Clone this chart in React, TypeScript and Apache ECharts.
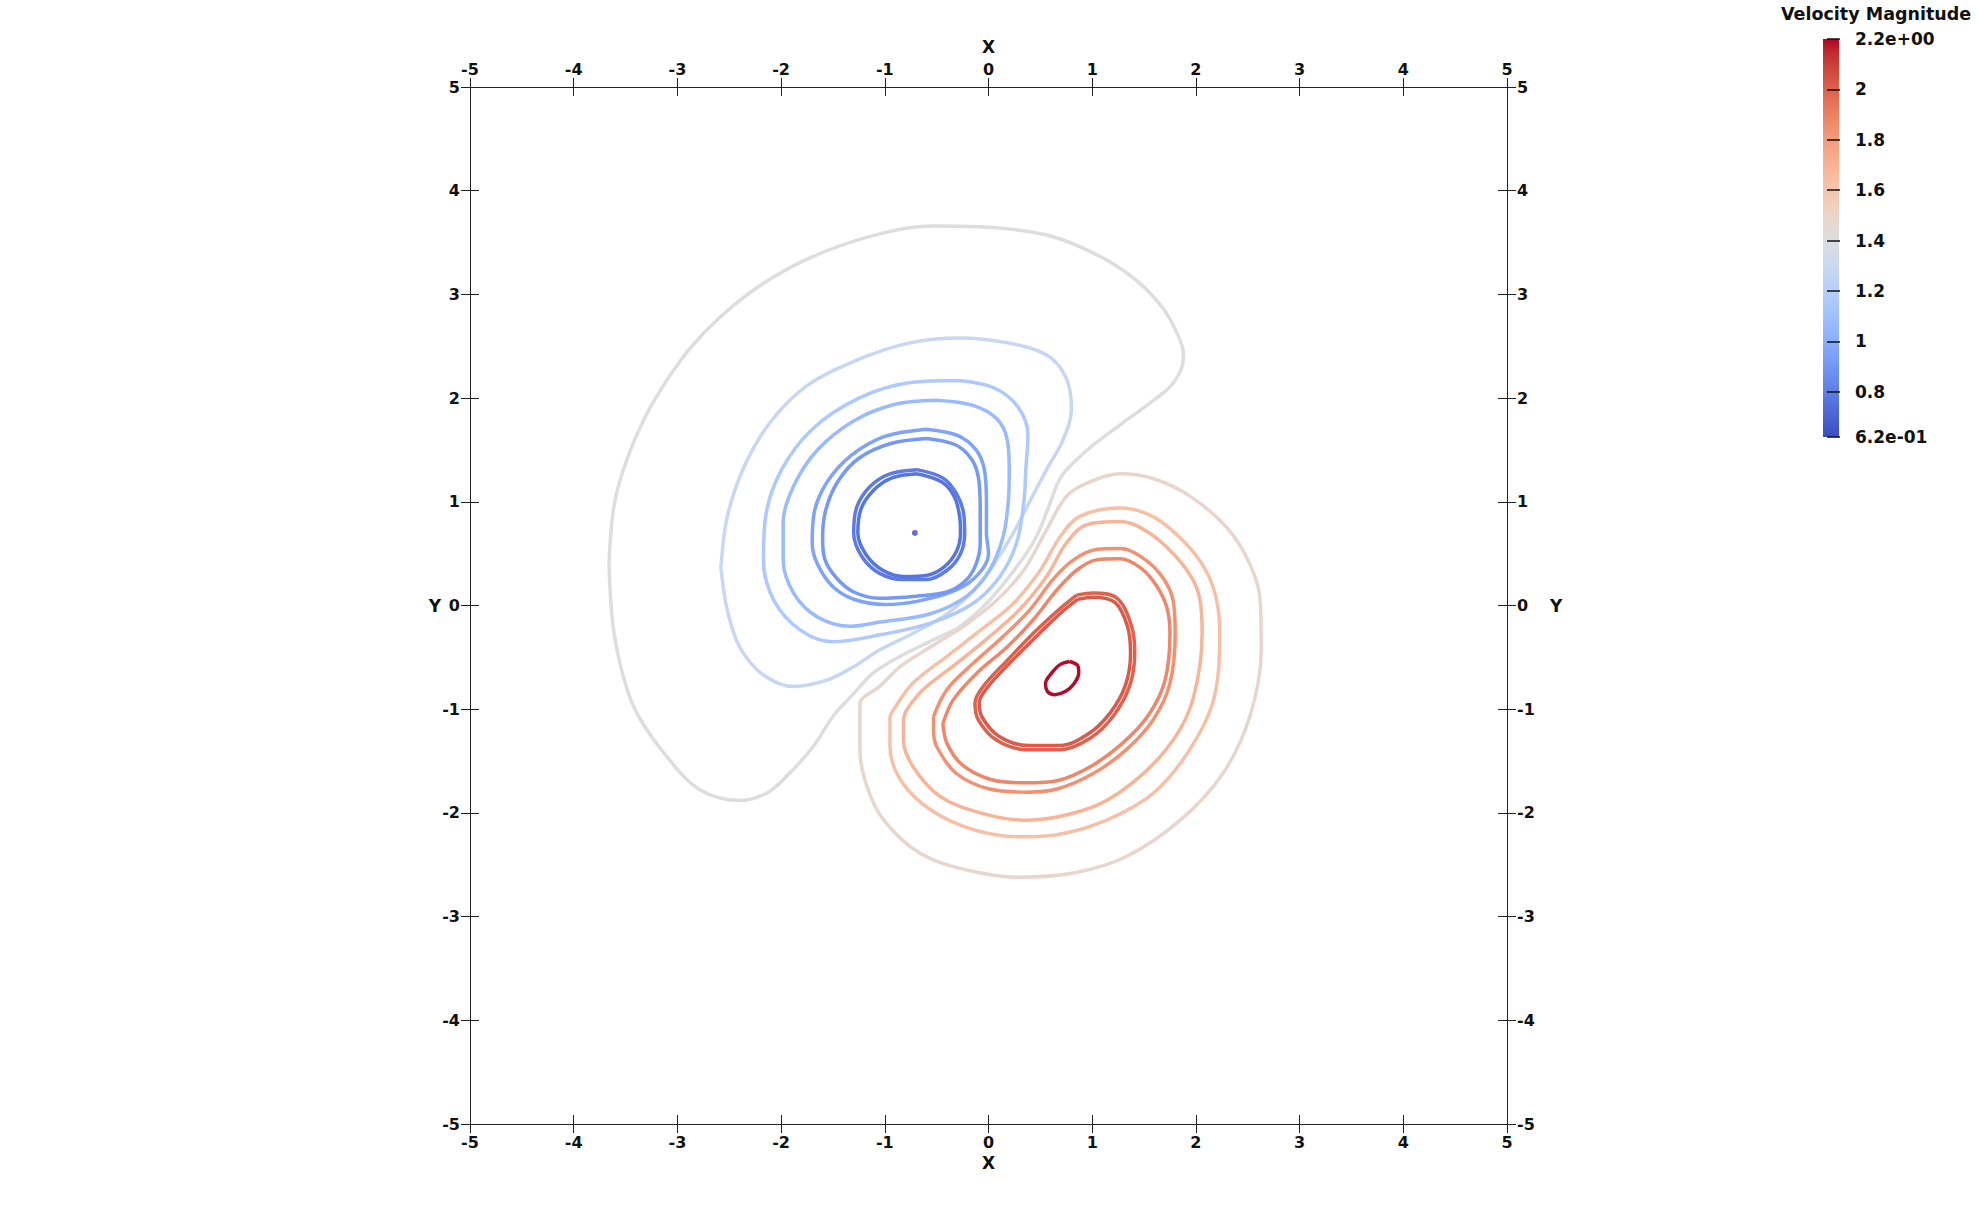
import React, { useEffect, useRef } from "react";
import * as echarts from "echarts";

// ---- axis ranges / ticks ----
const AXIS_MIN = -5;
const AXIS_MAX = 5;
const AXIS_STEP = 1;
const LEGEND_MIN = 0.62;
const LEGEND_MAX = 2.2;
const LEGEND_TICKS = [0.62, 0.8, 1, 1.2, 1.4, 1.6, 1.8, 2, 2.2];
const LEGEND_TITLE = "Velocity Magnitude";

// ---- contour lines (x, y) ----
const GRAY_141 = [
  [-3.66, 0.4], [-3.61, 0.97], [-3.49, 1.4], [-3.31, 1.82], [-3.09, 2.19], [-2.87, 2.49], [-2.6, 2.77],
  [-2.24, 3.06], [-1.75, 3.34], [-1.14, 3.56], [-0.53, 3.66], [-0.04, 3.65], [0.57, 3.57], [1.05, 3.38],
  [1.42, 3.14], [1.68, 2.87], [1.83, 2.6], [1.88, 2.42], [1.85, 2.26], [1.74, 2.1], [1.54, 1.94],
  [1.24, 1.72], [0.93, 1.48], [0.7, 1.24], [0.58, 0.95], [0.46, 0.66], [0.3, 0.41], [0.01, 0.05],
  [-0.27, -0.2], [-0.53, -0.33], [-0.85, -0.49], [-1.11, -0.65], [-1.3, -0.85], [-1.5, -1.07],
  [-1.69, -1.36], [-1.95, -1.65], [-2.14, -1.81], [-2.4, -1.88], [-2.78, -1.78], [-3.1, -1.46],
  [-3.39, -1.04], [-3.52, -0.69], [-3.62, -0.2], [-3.66, 0.4],
];
const BLUE_130 = [
  [-2.58, 0.36], [-2.52, 0.85], [-2.36, 1.33], [-2.11, 1.76], [-1.75, 2.12], [-1.26, 2.37], [-0.77, 2.53],
  [-0.29, 2.58], [0.2, 2.53], [0.57, 2.41], [0.75, 2.19], [0.8, 1.9], [0.72, 1.6], [0.56, 1.31],
  [0.37, 0.95], [0.24, 0.7], [0.08, 0.44], [-0.11, 0.18], [-0.4, -0.08], [-0.73, -0.27], [-1.05, -0.43],
  [-1.3, -0.59], [-1.56, -0.72], [-1.88, -0.78], [-2.17, -0.67], [-2.4, -0.4], [-2.52, -0.04], [-2.58, 0.36],
];
const BLUE_116 = [
  [-0.29, 2.17], [0.05, 2.1], [0.28, 1.92], [0.38, 1.65], [0.36, 1.31], [0.34, 0.99], [0.27, 0.6],
  [0.11, 0.28], [-0.15, 0.02], [-0.56, -0.17], [-1.03, -0.28], [-1.5, -0.35], [-1.81, -0.24],
  [-2.07, 0.05], [-2.17, 0.44], [-2.15, 0.85], [-2.0, 1.3], [-1.7, 1.7], [-1.25, 2.0], [-0.75, 2.15],
  [-0.29, 2.17],
];
const BLUE_108 = [
  [-0.5, 1.98], [-0.15, 1.93], [0.08, 1.8], [0.18, 1.6], [0.2, 1.31], [0.19, 0.99], [0.14, 0.66],
  [0.01, 0.34], [-0.21, 0.09], [-0.56, -0.08], [-1.05, -0.16], [-1.33, -0.2], [-1.65, -0.11],
  [-1.88, 0.12], [-1.98, 0.44], [-1.98, 0.8], [-1.88, 1.15], [-1.65, 1.5], [-1.3, 1.78], [-0.9, 1.94],
  [-0.5, 1.98],
];
const BLUE_095 = [
  [-0.6, 1.7], [-0.3, 1.64], [-0.12, 1.5], [-0.04, 1.31], [-0.02, 1.0], [-0.02, 0.7], [0.0, 0.5],
  [-0.1, 0.3], [-0.31, 0.15], [-0.69, 0.04], [-1.0, 0.01], [-1.3, 0.06], [-1.5, 0.18], [-1.65, 0.4],
  [-1.7, 0.6], [-1.68, 0.9], [-1.55, 1.2], [-1.32, 1.45], [-1.0, 1.63], [-0.6, 1.7],
];
const BLUE_091 = [
  [-0.6, 1.61], [-0.32, 1.55], [-0.17, 1.42], [-0.1, 1.25], [-0.08, 0.95], [-0.08, 0.6], [-0.12, 0.4],
  [-0.22, 0.24], [-0.4, 0.13], [-0.7, 0.09], [-1.05, 0.07], [-1.3, 0.13], [-1.47, 0.27], [-1.58, 0.45],
  [-1.6, 0.65], [-1.57, 0.92], [-1.45, 1.2], [-1.25, 1.42], [-0.95, 1.56], [-0.6, 1.61],
];
const BLUE_078 = [
  [-0.69, 1.31], [-0.44, 1.23], [-0.31, 1.08], [-0.24, 0.89], [-0.23, 0.7], [-0.27, 0.5], [-0.4, 0.34],
  [-0.6, 0.25], [-0.82, 0.25], [-1.05, 0.31], [-1.22, 0.47], [-1.3, 0.7], [-1.27, 0.95], [-1.14, 1.15],
  [-0.95, 1.27], [-0.69, 1.31],
];
const BLUE_076 = [
  [-0.69, 1.27], [-0.45, 1.19], [-0.33, 1.05], [-0.28, 0.87], [-0.27, 0.7], [-0.31, 0.52], [-0.43, 0.37],
  [-0.6, 0.29], [-0.82, 0.28], [-1.02, 0.34], [-1.18, 0.49], [-1.26, 0.7], [-1.23, 0.93], [-1.11, 1.11],
  [-0.93, 1.23], [-0.69, 1.27],
];
const BLUE_CORE = [[-0.71, 0.7]];

const BEIGE_148 = [
  [-1.24, -1.23], [-1.24, -0.95], [-1.05, -0.78], [-0.85, -0.59], [-0.56, -0.4], [-0.24, -0.2], [0.08, 0.05],
  [0.34, 0.34], [0.56, 0.73], [0.75, 1.05], [0.95, 1.18], [1.27, 1.27], [1.6, 1.22], [1.95, 1.05],
  [2.3, 0.75], [2.52, 0.4], [2.62, 0.05], [2.63, -0.43], [2.52, -1.07], [2.26, -1.62], [1.85, -2.07],
  [1.33, -2.42], [0.82, -2.58], [0.3, -2.62], [-0.21, -2.55], [-0.66, -2.39], [-1.01, -2.07],
  [-1.17, -1.75], [-1.24, -1.39], [-1.24, -1.23],
];
const PEACH_163 = [
  [-0.95, -1.07], [-0.92, -1.01], [-0.73, -0.75], [-0.4, -0.49], [-0.08, -0.24], [0.24, 0.02], [0.5, 0.34],
  [0.69, 0.66], [0.88, 0.86], [1.27, 0.94], [1.6, 0.85], [1.9, 0.6], [2.1, 0.33], [2.2, 0.05],
  [2.23, -0.27], [2.17, -0.91], [1.94, -1.39], [1.59, -1.81], [1.14, -2.07], [0.66, -2.21], [0.3, -2.23],
  [-0.15, -2.16], [-0.56, -1.97], [-0.85, -1.68], [-0.95, -1.36], [-0.95, -1.07],
];
const PEACH_169 = [
  [-0.82, -1.1], [-0.79, -1.01], [-0.63, -0.81], [-0.31, -0.56], [0.01, -0.3], [0.3, -0.04], [0.56, 0.28],
  [0.75, 0.6], [0.95, 0.78], [1.27, 0.81], [1.55, 0.7], [1.8, 0.48], [1.97, 0.25], [2.04, 0.05],
  [2.06, -0.27], [1.97, -0.91], [1.78, -1.3], [1.46, -1.65], [1.08, -1.91], [0.66, -2.04], [0.34, -2.07],
  [-0.08, -2.0], [-0.47, -1.84], [-0.73, -1.55], [-0.82, -1.3], [-0.82, -1.1],
];
const ORANGE_184 = [
  [-0.53, -1.07], [-0.4, -0.81], [-0.15, -0.56], [0.14, -0.3], [0.4, -0.04], [0.62, 0.25], [0.82, 0.44],
  [1.04, 0.54], [1.27, 0.55], [1.5, 0.45], [1.68, 0.27], [1.78, 0.05], [1.8, -0.27], [1.75, -0.75],
  [1.59, -1.1], [1.33, -1.39], [1.01, -1.62], [0.66, -1.77], [0.37, -1.8], [0.01, -1.77], [-0.31, -1.62],
  [-0.5, -1.36], [-0.53, -1.2], [-0.53, -1.07],
];
const ORANGE_188 = [
  [-0.44, -1.14], [-0.34, -0.91], [-0.11, -0.65], [0.18, -0.4], [0.43, -0.14], [0.66, 0.15], [0.85, 0.34],
  [1.04, 0.44], [1.27, 0.45], [1.47, 0.36], [1.62, 0.19], [1.72, -0.02], [1.75, -0.27], [1.7, -0.73],
  [1.54, -1.06], [1.29, -1.33], [0.99, -1.55], [0.66, -1.69], [0.37, -1.71], [0.03, -1.68], [-0.25, -1.54],
  [-0.4, -1.33], [-0.44, -1.14],
];
const RED_200 = [
  [0.85, 0.1], [1.01, 0.12], [1.24, 0.07], [1.38, -0.2], [1.41, -0.46], [1.36, -0.78], [1.2, -1.07],
  [0.98, -1.28], [0.69, -1.39], [0.37, -1.39], [0.08, -1.3], [-0.1, -1.1], [-0.13, -0.94], [-0.05, -0.78],
  [0.18, -0.53], [0.43, -0.27], [0.69, -0.03], [0.85, 0.1],
];
const RED_202 = [
  [0.86, 0.06], [1.01, 0.08], [1.22, 0.03], [1.34, -0.2], [1.37, -0.46], [1.32, -0.77], [1.17, -1.04],
  [0.96, -1.24], [0.69, -1.35], [0.38, -1.35], [0.1, -1.26], [-0.06, -1.08], [-0.09, -0.94], [-0.01, -0.79],
  [0.21, -0.55], [0.46, -0.3], [0.71, -0.06], [0.86, 0.06],
];
const RED_219 = [
  [0.78, -0.54], [0.86, -0.58], [0.87, -0.65], [0.82, -0.76], [0.74, -0.83], [0.64, -0.86], [0.57, -0.83],
  [0.55, -0.75], [0.61, -0.65], [0.69, -0.57], [0.78, -0.54],
];

const CONTOUR_LINES: [number, number[][]][] = [
  [1.41, GRAY_141], [1.29, BLUE_130], [1.16, BLUE_116], [1.07, BLUE_108], [0.95, BLUE_095],
  [0.91, BLUE_091], [0.79, BLUE_078], [0.77, BLUE_076],
  [1.48, BEIGE_148], [1.63, PEACH_163], [1.69, PEACH_169], [1.84, ORANGE_184], [1.88, ORANGE_188],
  [2.0, RED_200], [2.02, RED_202], [2.19, RED_219],
];
const CORE_VALUE = 0.62;

// ParaView "Cool to Warm" colour map
const COOLWARM = [
  [59, 76, 192], [68, 90, 204], [77, 104, 215], [87, 117, 225], [98, 130, 234], [108, 142, 241],
  [119, 154, 247], [130, 165, 251], [141, 176, 254], [152, 185, 255], [163, 194, 255], [174, 201, 253],
  [184, 208, 249], [194, 213, 244], [204, 217, 238], [213, 219, 230], [221, 221, 221], [229, 216, 209],
  [236, 211, 197], [241, 204, 185], [245, 196, 173], [247, 187, 160], [247, 177, 148], [247, 166, 135],
  [244, 154, 123], [241, 141, 111], [236, 127, 99], [229, 112, 88], [222, 96, 77], [213, 80, 66],
  [203, 62, 56], [192, 40, 47], [180, 4, 38],
];

function cmap(t: number): string {
  const tt = Math.max(0, Math.min(1, t));
  const pos = tt * (COOLWARM.length - 1);
  const i = Math.min(COOLWARM.length - 2, Math.floor(pos));
  const f = pos - i;
  const a = COOLWARM[i];
  const b = COOLWARM[i + 1];
  const c = [0, 1, 2].map((k) => Math.round(a[k] + (b[k] - a[k]) * f));
  return `rgb(${c[0]},${c[1]},${c[2]})`;
}
function valueColor(v: number): string {
  return cmap((v - LEGEND_MIN) / (LEGEND_MAX - LEGEND_MIN));
}
function legendLabel(v: number): string {
  if (v === LEGEND_MIN || v === LEGEND_MAX) {
    const [m, e] = v.toExponential(1).split("e");
    const sign = e[0] === "-" ? "-" : "+";
    const digits = e.replace(/[+-]/, "").padStart(2, "0");
    return `${m}e${sign}${digits}`;
  }
  return String(v);
}

const FONT = "DejaVu Sans";
const AXIS_COLOR = "#222";
const TEXT_COLOR = "#111";

export default function App() {
  const ref = useRef<HTMLDivElement>(null);

  useEffect(() => {
    document.body.style.margin = "0";
    document.body.style.overflow = "hidden";
    if (!ref.current) return;
    const chart = echarts.init(ref.current, undefined, { renderer: "svg" });

    const labelStyle = { fontFamily: FONT, fontSize: 16, fontWeight: "bold" as const, color: TEXT_COLOR };
    const nameStyle = { fontFamily: FONT, fontSize: 17, fontWeight: "bold" as const, color: TEXT_COLOR };

    const mkX = (position: "top" | "bottom", inside: boolean, labels: boolean) => ({
      type: "value",
      gridIndex: 0,
      position,
      min: AXIS_MIN,
      max: AXIS_MAX,
      interval: AXIS_STEP,
      axisLine: { show: true, onZero: false, lineStyle: { color: AXIS_COLOR, width: 1 } },
      axisTick: { show: true, inside, length: 9, lineStyle: { color: AXIS_COLOR, width: 1 } },
      axisLabel: {
        show: labels,
        margin: 10,
        showMinLabel: true,
        showMaxLabel: true,
        ...labelStyle,
      },
      splitLine: { show: false },
      name: labels ? "X" : "",
      nameLocation: "middle",
      nameGap: position === "bottom" ? 28 : 32,
      nameTextStyle: nameStyle,
    });
    const mkY = (position: "left" | "right", inside: boolean, labels: boolean) => ({
      type: "value",
      gridIndex: 0,
      position,
      min: AXIS_MIN,
      max: AXIS_MAX,
      interval: AXIS_STEP,
      axisLine: { show: true, onZero: false, lineStyle: { color: AXIS_COLOR, width: 1 } },
      axisTick: { show: true, inside, length: 9, lineStyle: { color: AXIS_COLOR, width: 1 } },
      axisLabel: {
        show: labels,
        margin: 10,
        showMinLabel: true,
        showMaxLabel: true,
        ...labelStyle,
      },
      splitLine: { show: false },
      name: labels ? "Y" : "",
      nameLocation: "middle",
      nameRotate: 0,
      nameGap: position === "left" ? 29 : 43,
      nameMoveOverlap: position === "left" ? false : undefined,
      nameTextStyle: nameStyle,
    });

    const gradientStops = COOLWARM.map((_, i) => ({
      offset: i / (COOLWARM.length - 1),
      color: cmap(1 - i / (COOLWARM.length - 1)),
    }));

    const contourSeries = CONTOUR_LINES.map(([v, pts]) => ({
      type: "line",
      xAxisIndex: 0,
      yAxisIndex: 0,
      data: pts,
      smooth: 0.35,
      showSymbol: false,
      symbol: "none",
      silent: true,
      lineStyle: { color: valueColor(v), width: 3.5 },
      z: 3,
    }));

    const option: any = {
      animation: false,
      backgroundColor: "#ffffff",
      title: {
        text: LEGEND_TITLE,
        left: 1781,
        top: 5,
        padding: 0,
        textStyle: { fontFamily: FONT, fontSize: 17.5, fontWeight: "bold", color: TEXT_COLOR },
      },
      grid: [
        { left: 470, top: 87, width: 1037, height: 1037, containLabel: false },
        { left: 1823, top: 39, width: 16, height: 398, containLabel: false },
      ],
      xAxis: [
        mkX("bottom", false, true),
        mkX("bottom", true, false),
        mkX("top", false, true),
        mkX("top", true, false),
        { type: "value", gridIndex: 1, min: 0, max: 1, show: false },
      ],
      yAxis: [
        mkY("left", false, true),
        mkY("left", true, false),
        mkY("right", false, true),
        mkY("right", true, false),
        {
          type: "value",
          gridIndex: 1,
          position: "right",
          offset: -4,
          min: LEGEND_MIN,
          max: LEGEND_MAX,
          z: 10,
          axisLine: { show: false },
          axisTick: {
            show: true,
            length: 13,
            customValues: LEGEND_TICKS,
            lineStyle: { color: TEXT_COLOR, width: 1.5 },
          },
          axisLabel: {
            show: true,
            margin: 20,
            customValues: LEGEND_TICKS,
            formatter: (v: number) => legendLabel(v),
            fontFamily: FONT,
            fontSize: 17,
            fontWeight: "bold",
            color: TEXT_COLOR,
          },
          splitLine: { show: false },
        },
      ],
      series: [
        ...contourSeries,
        {
          type: "scatter",
          xAxisIndex: 0,
          yAxisIndex: 0,
          data: BLUE_CORE,
          symbolSize: 6,
          silent: true,
          itemStyle: { color: valueColor(CORE_VALUE) },
          z: 4,
        },
        {
          type: "custom",
          xAxisIndex: 4,
          yAxisIndex: 4,
          silent: true,
          z: 2,
          data: [[0, LEGEND_MIN, 1, LEGEND_MAX]],
          renderItem: (params: any, api: any) => {
            const p1 = api.coord([api.value(0), api.value(3)]);
            const p2 = api.coord([api.value(2), api.value(1)]);
            return {
              type: "rect",
              shape: { x: p1[0], y: p1[1], width: p2[0] - p1[0], height: p2[1] - p1[1] },
              style: { fill: new echarts.graphic.LinearGradient(0, 0, 0, 1, gradientStops) },
            };
          },
        },
      ],
    };

    chart.setOption(option);
    return () => chart.dispose();
  }, []);

  return <div ref={ref} style={{ width: 1978, height: 1212 }} />;
}
